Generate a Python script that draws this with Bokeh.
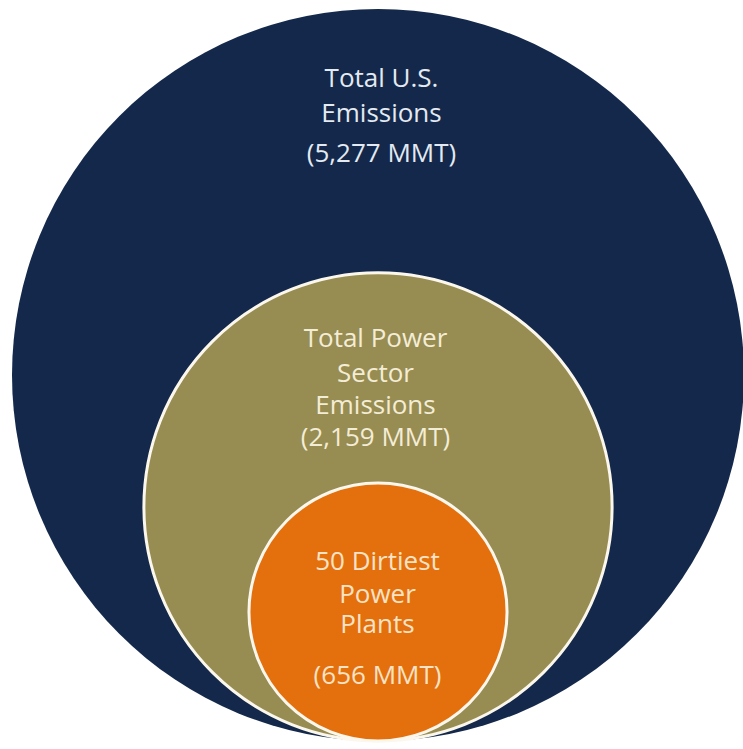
from bokeh.plotting import figure
from bokeh.models import Range1d, ColumnDataSource
from bokeh.core.properties import value
from bokeh.embed import file_html
from bokeh.resources import INLINE
import math

# ---- data ----
categories = ["Total U.S. Emissions", "Total Power Sector Emissions", "50 Dirtiest Power Plants"]
values_mmt = [5277, 2159, 656]
label_heads = [["Total U.S.", "Emissions"],
               ["Total Power", "Sector", "Emissions"],
               ["50 Dirtiest", "Power", "Plants"]]

# ---- style / layout ----
fill_colors = ["#13284a", "#978c52", "#e4700d"]
line_colors = [None, "#fbf7ec", "#fbf7ec"]
text_colors = ["#e4eaf1", "#f4edd6", "#f9e3c6"]
R_MAX = 366.0          # radius (px) of the largest circle
CX = 377.5             # common centre x
BOTTOM = 740.5         # common tangent point at the bottom
# baselines of each text line (image px)
baselines = [[76, 111, 151],
             [336, 371, 403, 435],
             [559, 592, 622, 673]]
text_x = [381, 375, 377]

radii = [R_MAX * math.sqrt(v / values_mmt[0]) for v in values_mmt]

W, H = 743, 749
p = figure(width=W, height=H, output_backend="svg", toolbar_location=None,
           x_range=Range1d(0, W), y_range=Range1d(H, 0),
           min_border=0)
p.axis.visible = False
p.grid.visible = False
p.outline_line_color = None
p.background_fill_color = "white"
p.border_fill_color = "white"

for i in range(len(values_mmt)):
    r = radii[i]
    src = ColumnDataSource(dict(x=[CX], y=[BOTTOM - r], r=[r]))
    if line_colors[i] is None:
        p.circle(x="x", y="y", radius="r", source=src, fill_color=fill_colors[i],
                 line_color=None)
    else:
        p.circle(x="x", y="y", radius="r", source=src, fill_color=fill_colors[i],
                 line_color=line_colors[i], line_width=3)

for i in range(len(values_mmt)):
    lines = label_heads[i] + [f"({values_mmt[i]:,} MMT)"]
    src = ColumnDataSource(dict(x=[text_x[i]] * len(lines), y=baselines[i], t=lines))
    p.text(x="x", y="y", text="t", source=src, text_align="center",
           text_baseline="alphabetic", text_font=value("Open Sans"),
           text_font_size=value("26px"), text_color=text_colors[i])

open("out.html", "w").write(file_html(p, INLINE))
